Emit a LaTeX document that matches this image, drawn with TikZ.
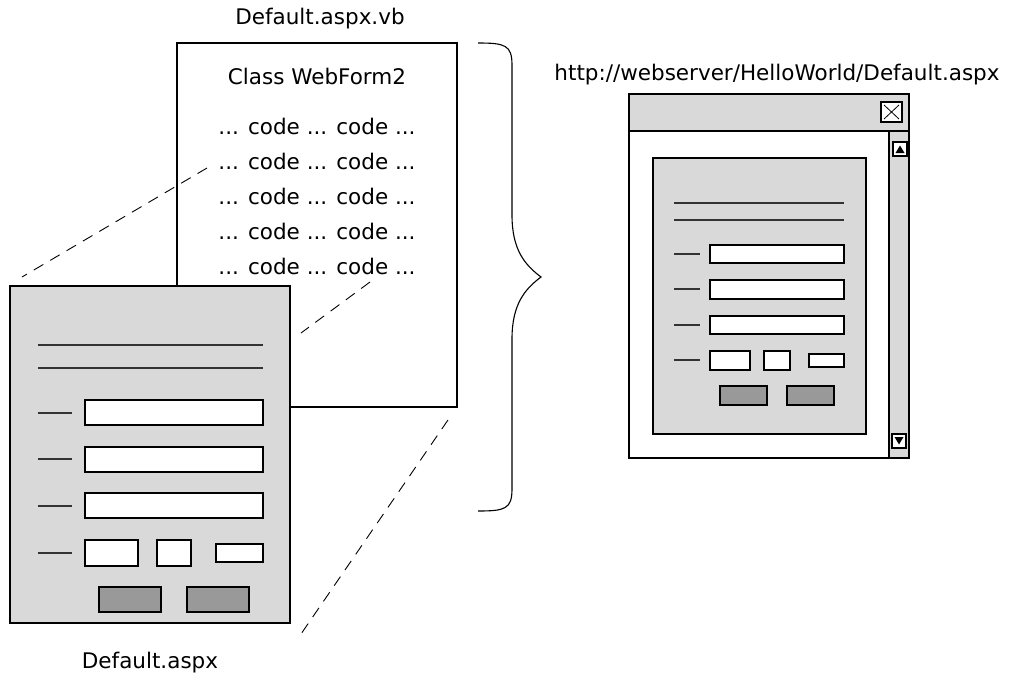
\documentclass[tikz,border=0pt]{standalone}
\usepackage{fontspec}
\setmainfont{DejaVu Sans}
\begin{document}
\begin{tikzpicture}[x=1pt,y=-1pt,
  pg/.style={draw=black,line width=1.3pt},
  formfill/.style={pg,fill=formgray},
  tbox/.style={draw=black,line width=1.2pt,fill=white},
  btn/.style={draw=black,line width=1.2pt,fill=btngray},
  rule/.style={draw=black!80,line width=1.2pt},
  zoomline/.style={draw=black,line width=0.9pt,dash pattern=on 11pt off 8pt},
  lbl/.style={inner sep=0pt,anchor=base,font=\fontsize{21.5}{25}\selectfont},
  thin/.style={draw=black,line width=0.8pt}
]
\definecolor{formgray}{HTML}{D9D9D9}
\definecolor{btngray}{HTML}{999999}
\useasboundingbox (0,0) rectangle (1009,686);

% ---------- code page ----------
\draw[pg,fill=white] (177,43) rectangle (457,407);
\node[lbl] (vbname) at (320,24) {Default.aspx.vb};
\node[lbl] (cls) at (317,84) {Class WebForm2};
\foreach \i/\yy in {1/134,2/169,3/204,4/239,5/274}{
  \node[lbl] (code\i) at (317,\yy) {... code ... code ...};
}

% ---------- zoom lines ----------
\coordinate (z1a) at (207,168);
\coordinate (z1b) at (22,277);
\coordinate (z2a) at (370,282);
\coordinate (z2b) at (301,333);
\coordinate (z3a) at (448,420);
\coordinate (z3b) at (301,634);
\draw[zoomline] (z1a) -- (z1b);
\draw[zoomline] (z2a) -- (z2b);
\draw[zoomline] (z3a) -- (z3b);

% ---------- form page (front) ----------
\draw[formfill] (10,286) rectangle (290,623);
\draw[rule] (38,345) -- (263,345);
\draw[rule] (38,368) -- (263,368);
\foreach \yy in {413,459,506,553}{\draw[rule] (38,\yy) -- (72,\yy);}
\draw[tbox] (85,400) rectangle (263,425);
\draw[tbox] (85,447) rectangle (263,472);
\draw[tbox] (85,493) rectangle (263,518);
\draw[tbox] (85,540) rectangle (138,566);
\draw[tbox] (157,540) rectangle (191,566);
\draw[tbox] (216,544) rectangle (263,562);
\draw[btn] (99,587) rectangle (161,612);
\draw[btn] (187,587) rectangle (249,612);
\node[lbl] (aspxname) at (150,668) {Default.aspx};

% ---------- brace ----------
\draw[line width=1.1pt] (478,43) .. controls (505,43) and (512,45) .. (512,65)
  -- (512,215) .. controls (512,250) and (525,265) .. (541,277)
  .. controls (525,289) and (512,304) .. (512,339)
  -- (512,489) .. controls (512,509) and (505,511) .. (478,511);

% ---------- browser window ----------
\node[lbl] (url) at (777,80) {http://webserver/HelloWorld/Default.aspx};
\draw[pg,fill=white] (629,94) rectangle (909,458);
\draw[pg,fill=formgray] (629,94) rectangle (909,131);
\draw[pg,fill=formgray] (889,131) rectangle (909,458);
% close box
\draw[tbox,line width=1.2pt] (881,102) rectangle (902,122);
\draw[thin] (884,105) -- (899,119);
\draw[thin] (884,119) -- (899,105);
% scroll arrows
\draw[tbox,line width=1.2pt] (893,142) rectangle (907,156);
\fill[black] (895.5,153) -- (904.5,153) -- (900,145.5) -- cycle;
\draw[tbox,line width=1.2pt] (892,434) rectangle (906,448);
\fill[black] (894.5,437) -- (903.5,437) -- (899,444.5) -- cycle;
% inner form
\draw[formfill] (653,158) rectangle (866,434);
\draw[rule] (674,203) -- (844,203);
\draw[rule] (674,220) -- (844,220);
\foreach \yy in {254,289,325,360}{\draw[rule] (674,\yy) -- (700,\yy);}
\draw[tbox] (710,245) rectangle (844,263);
\draw[tbox] (710,280) rectangle (844,299);
\draw[tbox] (710,316) rectangle (844,334);
\draw[tbox] (710,351) rectangle (750,370);
\draw[tbox] (764,351) rectangle (790,370);
\draw[tbox] (809,354) rectangle (844,367);
\draw[btn] (720,386) rectangle (767,405);
\draw[btn] (787,386) rectangle (834,405);
\end{tikzpicture}
\end{document}
